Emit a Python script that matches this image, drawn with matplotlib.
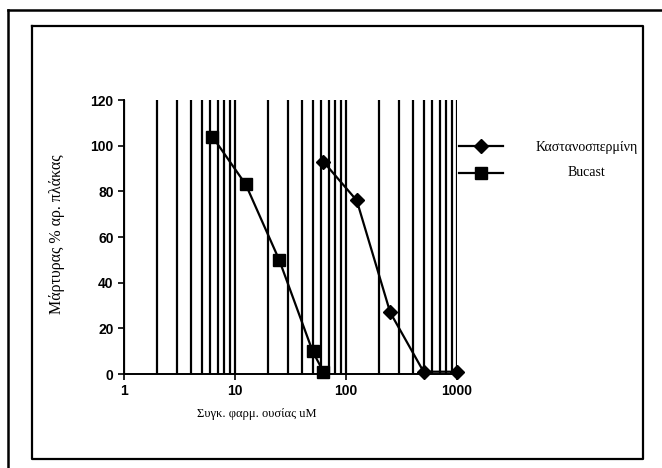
import matplotlib.pyplot as plt
from matplotlib.lines import Line2D
from matplotlib.ticker import LogLocator, NullFormatter

# data
kast_x = [62.5, 125, 250, 500, 1000]
kast_y = [93, 76, 27, 1, 1]
buc_x = [6.25, 12.5, 25, 50, 62.5]
buc_y = [104, 83, 50, 10, 1]

x_ticks = [1, 10, 100, 1000]
x_ticklabels = ['1', '10', '100', '1000']
y_ticks = [0, 20, 40, 60, 80, 100, 120]

label_kast = 'Καστανοσπερμίνη'
label_buc = 'Bucast'
xlabel = 'Συγκ. φαρμ. ουσίας uM'
ylabel = 'Μάρτυρας % αρ. πλάκας'

serif = ['Liberation Serif', 'DejaVu Serif']
sans = ['Liberation Sans', 'DejaVu Sans']

fig = plt.figure(figsize=(6.62, 4.68), dpi=100)

# frames of the scanned page
W, H = 662, 468
def fx(px):
    return px / W
def fy(py):
    return 1 - py / H
fig.add_artist(Line2D([fx(8), fx(662)], [fy(10), fy(10)], color='black', lw=1.8))
fig.add_artist(Line2D([fx(8), fx(8)], [fy(10), fy(468)], color='black', lw=1.8))
fig.add_artist(Line2D([fx(32), fx(643), fx(643), fx(32), fx(32)],
                      [fy(26), fy(26), fy(459), fy(459), fy(26)], color='black', lw=1.6))

ax = fig.add_axes([fx(124), fy(374), fx(457) - fx(124), fy(100) - fy(374)])
ax.set_xscale('log')
ax.set_xlim(1, 1000)
ax.set_ylim(0, 120)

ax.plot(kast_x, kast_y, color='black', lw=1.6, marker='D', markersize=7, clip_on=False, zorder=3)
ax.plot(buc_x, buc_y, color='black', lw=1.6, marker='s', markersize=8.5, clip_on=False, zorder=3)

# vertical gridlines at every log subdivision
ax.xaxis.set_minor_locator(LogLocator(base=10, subs=range(2, 10)))
ax.xaxis.set_minor_formatter(NullFormatter())
ax.grid(True, which='both', axis='x', color='black', lw=1.6)
ax.tick_params(axis='x', which='minor', length=0)

ax.set_xticks(x_ticks)
ax.set_xticklabels(x_ticklabels)
ax.set_yticks(y_ticks)
for t in ax.get_xticklabels() + ax.get_yticklabels():
    t.set_fontfamily(sans)
    t.set_fontweight('bold')
    t.set_fontsize(10)
ax.tick_params(axis='both', which='major', direction='out', length=4, width=1.2, color='black')

ax.spines['top'].set_visible(False)
ax.spines['right'].set_visible(False)
ax.spines['left'].set_linewidth(1.4)
ax.spines['bottom'].set_linewidth(1.4)

ax.set_xlabel(xlabel, family=serif, fontsize=9)
ax.xaxis.set_label_coords(0.40, -0.125)
ax.set_ylabel(ylabel, family=serif, fontsize=11.5)
ax.yaxis.set_label_coords(-0.177, 0.51)

# legend: handles from the plotted lines, names placed to the right
handles = ax.get_lines()
leg = ax.legend(handles, ['', ''], loc='center left', bbox_to_anchor=(0.985, 0.78),
                frameon=False, handlelength=3.2, numpoints=1, labelspacing=0.9,
                handletextpad=0, borderpad=0, fontsize=10)
ax.text(1.39, 0.825, label_kast, transform=ax.transAxes, ha='center', va='center',
        family=serif, fontsize=10)
ax.text(1.39, 0.737, label_buc, transform=ax.transAxes, ha='center', va='center',
        family=serif, fontsize=10)

fig.savefig('out.png', dpi=100)
